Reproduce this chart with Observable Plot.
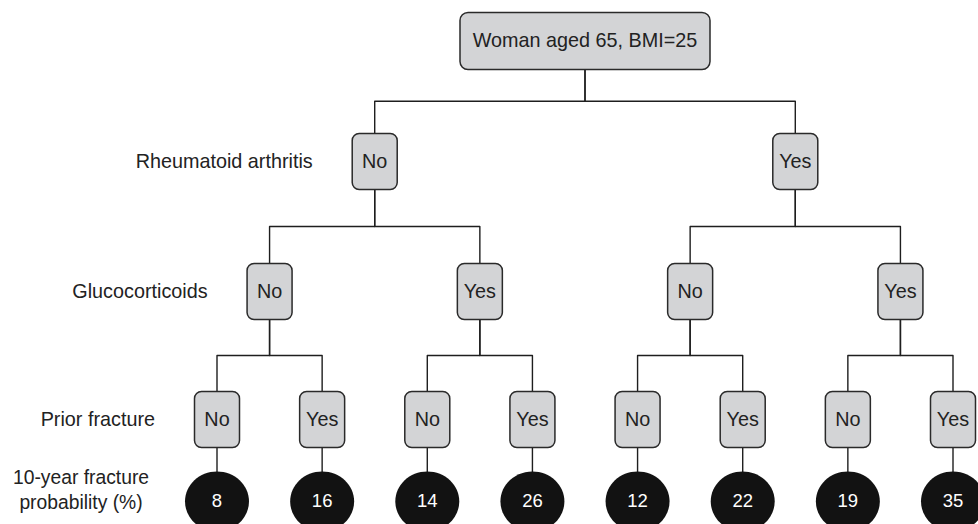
<!DOCTYPE html>
<html>
<head>
<meta charset="utf-8">
<script src="https://cdn.jsdelivr.net/npm/d3@7"></script>
<script src="https://cdn.jsdelivr.net/npm/@observablehq/plot@0.6"></script>
<style>
  html, body { margin: 0; padding: 0; background: #fff; overflow: hidden; }
</style>
</head>
<body>
<div id="chart"></div>
<script>
// ---- data ----
const rootLabel = "Woman aged 65, BMI=25";
const rowLabels = ["Rheumatoid arthritis", "Glucocorticoids", "Prior fracture"];
const outcomeLabel = "10-year fracture\nprobability (%)";
const branchLabels = ["No", "Yes"];
const probabilities = [8, 16, 14, 26, 12, 22, 19, 35];

// ---- tree built from the data (x = leaf index, y = level) ----
const depth = rowLabels.length; // 3 yes/no levels
const rootNode = [{level: 0, k: 0, x: (2 ** depth - 1) / 2, label: rootLabel}];
const branchNodes = [];
for (let L = 1; L <= depth; ++L) {
  for (let k = 0; k < 2 ** L; ++k) {
    branchNodes.push({level: L, k, x: (k + 0.5) * 2 ** (depth - L) - 0.5, label: branchLabels[k % 2]});
  }
}
const leafNodes = probabilities.map((p, i) => ({level: depth + 1, k: i, x: i, label: String(p)}));
const allNodes = [...rootNode, ...branchNodes, ...leafNodes];
const find = (L, k) => allNodes.find(n => n.level === L && n.k === k);

// elbow connectors: parent -> mid level -> child
const edgePoints = [];
allNodes.filter(n => n.level > 0).forEach((c, i) => {
  const p = c.level === depth + 1 ? find(depth, c.k) : find(c.level - 1, c.k >> 1);
  const mid = (p.level + c.level) / 2;
  edgePoints.push({id: i, x: p.x, y: p.level}, {id: i, x: p.x, y: mid},
                  {id: i, x: c.x, y: mid}, {id: i, x: c.x, y: c.level});
});

const rowLabelData = rowLabels.map((t, i) => ({level: i + 1, x: find(i + 1, 0).x, text: t}));
const outcomeData = [{level: depth + 1, x: 0, text: outcomeLabel}];

// ---- custom symbols ----
function roundRect(w, h, r) {
  return {draw(ctx) {
    const x0 = -w / 2, x1 = w / 2, y0 = -h / 2, y1 = h / 2;
    ctx.moveTo(x0 + r, y0);
    ctx.lineTo(x1 - r, y0); ctx.arcTo(x1, y0, x1, y0 + r, r);
    ctx.lineTo(x1, y1 - r); ctx.arcTo(x1, y1, x1 - r, y1, r);
    ctx.lineTo(x0 + r, y1); ctx.arcTo(x0, y1, x0, y1 - r, r);
    ctx.lineTo(x0, y0 + r); ctx.arcTo(x0, y0, x0 + r, y0, r);
    ctx.closePath();
  }};
}
function ellipse(rx, ry) {
  const k = 0.5523;
  return {draw(ctx) {
    ctx.moveTo(rx, 0);
    ctx.bezierCurveTo(rx, k * ry, k * rx, ry, 0, ry);
    ctx.bezierCurveTo(-k * rx, ry, -rx, k * ry, -rx, 0);
    ctx.bezierCurveTo(-rx, -k * ry, -k * rx, -ry, 0, -ry);
    ctx.bezierCurveTo(k * rx, -ry, rx, -k * ry, rx, 0);
    ctx.closePath();
  }};
}

const boxFill = "#d3d4d6", boxStroke = "#2a2a2a", ink = "#222";

const chart = Plot.plot({
  width: 978,
  height: 524,
  margin: 0,
  style: {fontFamily: "'Liberation Sans', Arial, Helvetica, sans-serif", background: "#fff"},
  x: {domain: [0, 7], range: [216.5, 952.5], axis: null},
  y: {type: "linear", domain: [0, 1, 2, 3, 4], range: [40.5, 161, 291, 419, 501], axis: null},
  marks: [
    Plot.line(edgePoints, {x: "x", y: "y", z: "id", stroke: "#1e1e1e", strokeWidth: 1.4}),
    Plot.dot(rootNode, {x: "x", y: "level", symbol: roundRect(250, 57, 8), fill: boxFill, stroke: boxStroke, strokeWidth: 1.5}),
    Plot.dot(branchNodes, {x: "x", y: "level", symbol: roundRect(45, 56, 7), fill: boxFill, stroke: boxStroke, strokeWidth: 1.5}),
    Plot.dot(leafNodes, {x: "x", y: "level", symbol: ellipse(32, 30), fill: "#121212", stroke: "none"}),
    Plot.text([...rootNode, ...branchNodes], {x: "x", y: "level", text: "label", fill: ink, fontSize: 19.8}),
    Plot.text(leafNodes, {x: "x", y: "level", text: "label", fill: "#fff", fontSize: 18.5}),
    Plot.text(rowLabelData, {x: "x", y: "level", text: "text", textAnchor: "end", dx: -62, fill: ink, fontSize: 19.8}),
    Plot.text(outcomeData, {x: "x", y: "level", text: "text", textAnchor: "middle", dx: -136, dy: -13, lineHeight: 1.3, fill: ink, fontSize: 19.3})
  ]
});
document.getElementById("chart").appendChild(chart);
</script>
</body>
</html>
